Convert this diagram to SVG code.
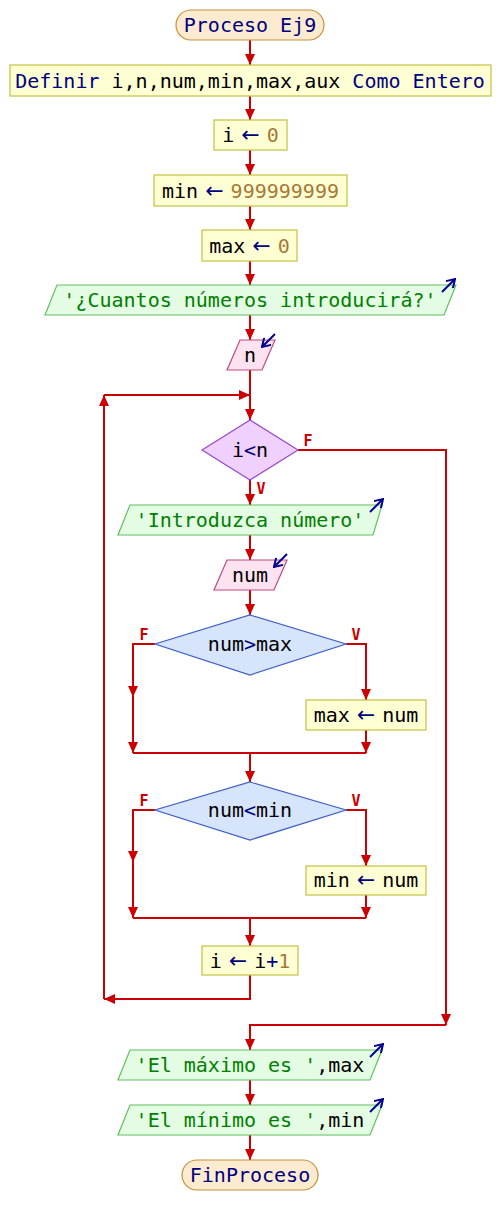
<svg xmlns="http://www.w3.org/2000/svg" width="500" height="1225" viewBox="0 0 500 1225">
<style>
text{font-family:"DejaVu Sans Mono","Liberation Mono",monospace;font-size:20px;text-anchor:middle;fill:#000}
.kw{fill:#000080}.num{fill:#a87838}.str{fill:#008000}
.arr{fill:#000080;font-family:"DejaVu Sans",sans-serif;font-size:22px}
.lbl{font-size:15px;font-weight:bold;fill:#cc0000}
.term{fill:#fdebd0;stroke:#c89040;stroke-width:1.2}
.proc{fill:#ffffd4;stroke:#c4c040;stroke-width:1.2}
.out{fill:#e4fce4;stroke:#60c060;stroke-width:1.2}
.inp{fill:#fde2f0;stroke:#c04a80;stroke-width:1.2}
.dec1{fill:#f0d0fc;stroke:#9848d0;stroke-width:1.2}
.dec2{fill:#d6e4fc;stroke:#4060c8;stroke-width:1.2}
.c{fill:none;stroke:#cc0000;stroke-width:2}
.ic{fill:none;stroke:#000090;stroke-width:2}
</style>
<defs>
<marker id="ah" markerUnits="userSpaceOnUse" markerWidth="12" markerHeight="12" viewBox="0 0 12 12" refX="11" refY="6" orient="auto">
<path d="M0,1 L11,6 L0,11 Z" fill="#cc0000"/>
</marker>
<marker id="ih" markerUnits="userSpaceOnUse" markerWidth="10" markerHeight="10" viewBox="0 0 10 10" refX="9" refY="5" orient="auto">
<path d="M1,0 L9,5 L1,10" fill="none" stroke="#000090" stroke-width="2"/>
</marker>
</defs>
<g id="connectors">
<path class="c" d="M250,40 V65" marker-end="url(#ah)"/>
<path class="c" d="M250,96 V120" marker-end="url(#ah)"/>
<path class="c" d="M250,150 V175" marker-end="url(#ah)"/>
<path class="c" d="M250,206 V230" marker-end="url(#ah)"/>
<path class="c" d="M250,261 V285" marker-end="url(#ah)"/>
<path class="c" d="M250,315 V340" marker-end="url(#ah)"/>
<path class="c" d="M250,370 V420" marker-end="url(#ah)"/>
<path class="c" d="M250,480 V505" marker-end="url(#ah)"/>
<path class="c" d="M250,535 V560" marker-end="url(#ah)"/>
<path class="c" d="M250,590 V615" marker-end="url(#ah)"/>
<path class="c" d="M155,644 H133 V697" marker-end="url(#ah)"/>
<path class="c" d="M133,697 V753" marker-end="url(#ah)"/>
<path class="c" d="M346,644 H366 V700" marker-end="url(#ah)"/>
<path class="c" d="M366,730 V753" marker-end="url(#ah)"/>
<path class="c" d="M133,753 H366"/>
<path class="c" d="M250,753 V782" marker-end="url(#ah)"/>
<path class="c" d="M155,810 H133 V862" marker-end="url(#ah)"/>
<path class="c" d="M133,862 V918" marker-end="url(#ah)"/>
<path class="c" d="M346,810 H366 V866" marker-end="url(#ah)"/>
<path class="c" d="M366,895 V918" marker-end="url(#ah)"/>
<path class="c" d="M133,918 H366"/>
<path class="c" d="M250,918 V946" marker-end="url(#ah)"/>
<path class="c" d="M250,975 V999 H104" marker-end="url(#ah)"/>
<path class="c" d="M104,999 V395" marker-end="url(#ah)"/>
<path class="c" d="M104,395 H250" marker-end="url(#ah)"/>
<path class="c" d="M298,450 H446 V1025" marker-end="url(#ah)"/>
<path class="c" d="M446,1025 H250 V1050" marker-end="url(#ah)"/>
<path class="c" d="M250,1080 V1105" marker-end="url(#ah)"/>
<path class="c" d="M250,1135 V1160" marker-end="url(#ah)"/>
<text class="lbl" x="308" y="446">F</text>
<text class="lbl" x="261" y="494">V</text>
<text class="lbl" x="144" y="640">F</text>
<text class="lbl" x="356" y="640">V</text>
<text class="lbl" x="144" y="806">F</text>
<text class="lbl" x="356" y="806">V</text>
</g>
<g id="start">
<rect class="term" x="176" y="10" width="148" height="30" rx="15"/>
<text x="250" y="32" class="kw">Proceso Ej9</text>
</g>
<g id="definir">
<rect class="proc" x="10" y="65" width="481" height="31"/>
<text x="250" y="88"><tspan class="kw">Definir</tspan> i,n,num,min,max,aux <tspan class="kw">Como Entero</tspan></text>
</g>
<g id="assign_i">
<rect class="proc" x="214" y="120" width="73" height="30"/>
<text x="250.5" y="142">i<tspan class="arr" dx="7">←</tspan><tspan class="num" dx="7">0</tspan></text>
</g>
<g id="assign_min">
<rect class="proc" x="154" y="175" width="193" height="31"/>
<text x="250.5" y="198">min<tspan class="arr" dx="7">←</tspan><tspan class="num" dx="7">999999999</tspan></text>
</g>
<g id="assign_max">
<rect class="proc" x="202" y="230" width="95" height="31"/>
<text x="249.5" y="253">max<tspan class="arr" dx="7">←</tspan><tspan class="num" dx="7">0</tspan></text>
</g>
<g id="out_cuantos">
<polygon class="out" points="57,285 456,285 444,315 45,315"/>
<text x="250" y="307" class="str">'¿Cuantos números introducirá?'</text>
<path class="ic" d="M442,292 L455,279" marker-end="url(#ih)"/>
</g>
<g id="in_n">
<polygon class="inp" points="240,340 275,340 262,370 227,370"/>
<text x="250" y="362">n</text>
<path class="ic" d="M275,334 L262,347" marker-end="url(#ih)"/>
</g>
<g id="dec_i_n">
<polygon class="dec1" points="250,420 298,450 250,480 202,450"/>
<text x="250" y="457">i<tspan class="kw">&lt;</tspan>n</text>
</g>
<g id="out_introduzca">
<polygon class="out" points="130,505 382,505 373,535 118,535"/>
<text x="250" y="527" class="str">'Introduzca número'</text>
<path class="ic" d="M370,512 L383,499" marker-end="url(#ih)"/>
</g>
<g id="in_num">
<polygon class="inp" points="227,560 287,560 274,590 214,590"/>
<text x="250" y="582">num</text>
<path class="ic" d="M287,554 L274,567" marker-end="url(#ih)"/>
</g>
<g id="dec_max">
<polygon class="dec2" points="250,615 346,644 250,675 155,644"/>
<text x="250" y="651">num<tspan class="kw">&gt;</tspan>max</text>
</g>
<g id="assign_max_num">
<rect class="proc" x="306" y="700" width="120" height="30"/>
<text x="366" y="722">max<tspan class="arr" dx="7">←</tspan><tspan dx="7">num</tspan></text>
</g>
<g id="dec_min">
<polygon class="dec2" points="250,782 346,810 250,840 155,810"/>
<text x="250" y="817">num<tspan class="kw">&lt;</tspan>min</text>
</g>
<g id="assign_min_num">
<rect class="proc" x="306" y="866" width="120" height="29"/>
<text x="366" y="887">min<tspan class="arr" dx="7">←</tspan><tspan dx="7">num</tspan></text>
</g>
<g id="incr">
<rect class="proc" x="202" y="946" width="96" height="29"/>
<text x="250" y="968">i<tspan class="arr" dx="7">←</tspan><tspan dx="7">i</tspan><tspan class="kw">+</tspan><tspan class="num">1</tspan></text>
</g>
<g id="out_max">
<polygon class="out" points="130,1050 382,1050 370,1080 118,1080"/>
<text x="250" y="1072"><tspan class="str">'El máximo es '</tspan>,max</text>
<path class="ic" d="M370,1057 L383,1044" marker-end="url(#ih)"/>
</g>
<g id="out_min">
<polygon class="out" points="130,1105 382,1105 370,1135 118,1135"/>
<text x="250" y="1127"><tspan class="str">'El mínimo es '</tspan>,min</text>
<path class="ic" d="M370,1112 L383,1099" marker-end="url(#ih)"/>
</g>
<g id="end">
<rect class="term" x="182" y="1160" width="136" height="30" rx="15"/>
<text x="250" y="1182" class="kw">FinProceso</text>
</g>
</svg>
